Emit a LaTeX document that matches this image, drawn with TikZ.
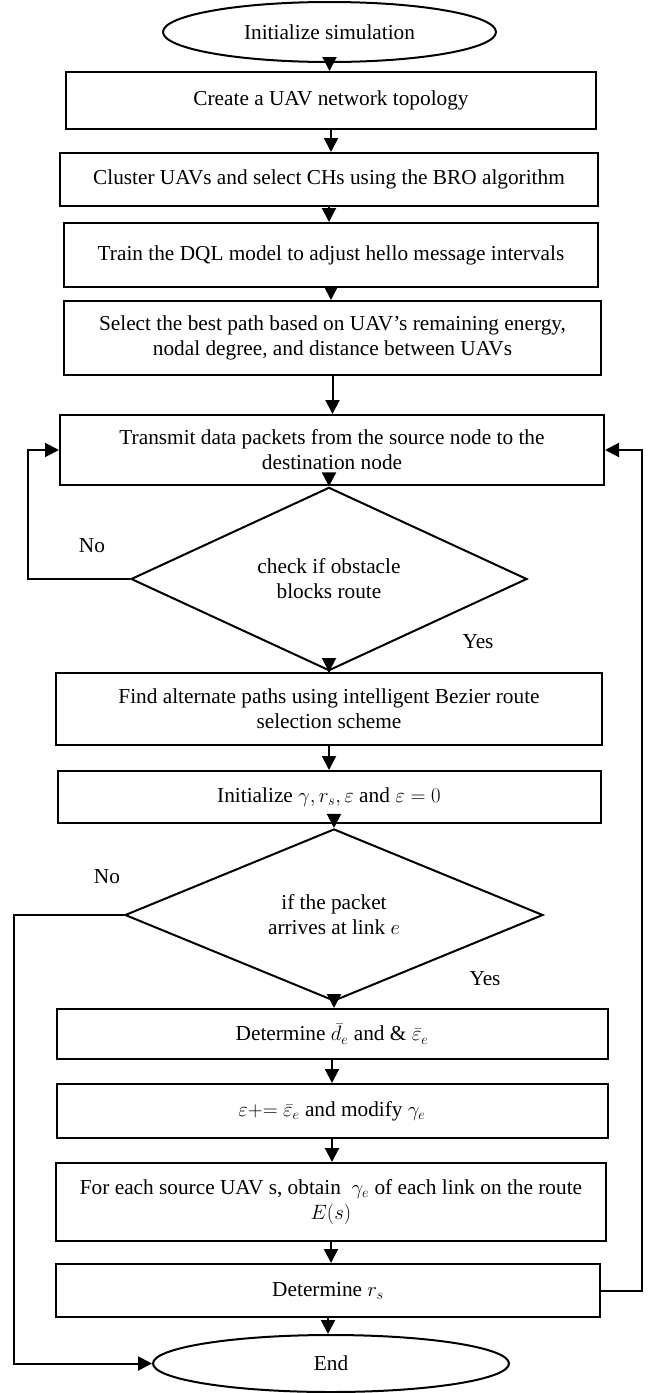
\documentclass[tikz,border=0pt]{standalone}
\usepackage{fontspec}
\setmainfont{Liberation Serif}
\usetikzlibrary{shapes.geometric,arrows.meta}
\begin{document}
\begin{tikzpicture}[x=1pt,y=-1pt,
  font=\fontsize{21.3}{25}\selectfont,
  box/.style={draw,line width=2pt,rectangle,inner sep=0pt,align=center},
  term/.style={draw,line width=2pt,ellipse,inner sep=0pt},
  dec/.style={draw,line width=2pt,diamond,inner sep=0pt,align=center},
  arr/.style={line width=2pt,-{Triangle[length=14pt,width=14pt]}},
  lbl/.style={inner sep=0pt}]
\useasboundingbox (0,0) rectangle (654,1393);
\node[term,minimum width=333pt,minimum height=60pt] (s) at (329.5,32) {Initialize simulation};
\node[box,minimum width=530pt,minimum height=57pt] (b1) at (331,100.5) {Create a UAV network topology};
\node[box,minimum width=538pt,minimum height=53pt] (b2) at (329,179.5) {Cluster UAVs and select CHs using the BRO algorithm};
\node[box,minimum width=534pt,minimum height=64pt] (b3) at (331,255) {Train the DQL model to adjust hello message intervals};
\node[box,minimum width=537pt,minimum height=74pt] (b4) at (332.5,338) {Select the best path based on UAV's remaining energy,\\ nodal degree, and distance between UAVs};
\node[box,minimum width=544pt,minimum height=70pt] (b5) at (332,450) {Transmit data packets from the source node to the\\ destination node};
\node[dec,minimum width=396pt,minimum height=144pt] (d1) at (329,579) {check if obstacle\\ blocks route};
\node[box,minimum width=546pt,minimum height=72pt] (b6) at (329,709) {Find alternate paths using intelligent Bezier route\\ selection scheme};
\node[box,minimum width=543pt,minimum height=52pt] (b7) at (329,797) {Initialize $\gamma, r_s, \varepsilon$ and $\varepsilon = 0$};
\node[dec,minimum width=418pt,minimum height=140pt] (d2) at (334,915) {if the packet\\ arrives at link $e$};
\node[box,minimum width=551pt,minimum height=50pt] (b8) at (332,1034) {Determine $\bar{d}_e$ and \& $\bar{\varepsilon}_e$};
\node[box,minimum width=551pt,minimum height=54pt] (b9) at (332,1111) {$\varepsilon{+}{=}\ \bar{\varepsilon}_e$ and modify $\gamma_e$};
\node[box,minimum width=550pt,minimum height=78pt] (b10) at (331,1202) {For each source UAV s, obtain\ \ $\gamma_e$ of each link on the route\\ $E(s)$};
\node[box,minimum width=544pt,minimum height=53pt] (b11) at (328,1290.5) {Determine $r_s$};
\node[term,minimum width=356pt,minimum height=57pt] (e) at (331,1363.5) {End};
\node[lbl] (no1) at (92,546) {No};
\node[lbl] (yes1) at (478,642) {Yes};
\node[lbl] (no2) at (107,877) {No};
\node[lbl] (yes2) at (485,979) {Yes};
\draw[arr] (s.south) -- (s.south |- b1.north);
\draw[arr] (b1.south) -- (b1.south |- b2.north);
\draw[arr] (b2.south) -- (b2.south |- b3.north);
\draw[arr] (b3.south) -- (b3.south |- b4.north);
\draw[arr] (b4.south) -- (b4.south |- b5.north);
\draw[arr] (d1.north |- b5.south) -- (d1.north);
\draw[arr] (d1.south) -- (d1.south |- b6.north);
\draw[arr] (b6.south) -- (b6.south |- b7.north);
\draw[arr] (d2.north |- b7.south) -- (d2.north);
\draw[arr] (d2.south) -- (d2.south |- b8.north);
\draw[arr] (b8.south) -- (b8.south |- b9.north);
\draw[arr] (b9.south) -- (b9.south |- b10.north);
\draw[arr] (b10.south) -- (b10.south |- b11.north);
\draw[arr] (b11.south) -- (b11.south |- e.north);
\draw[arr] (d1.west) -- ++(-102,0) |- (b5.west);
\draw[arr] (b11.east) -- ++(41,0) |- (b5.east);
\draw[arr] (d2.west) -- ++(-110,0) |- (e.west);
\end{tikzpicture}
\end{document}
